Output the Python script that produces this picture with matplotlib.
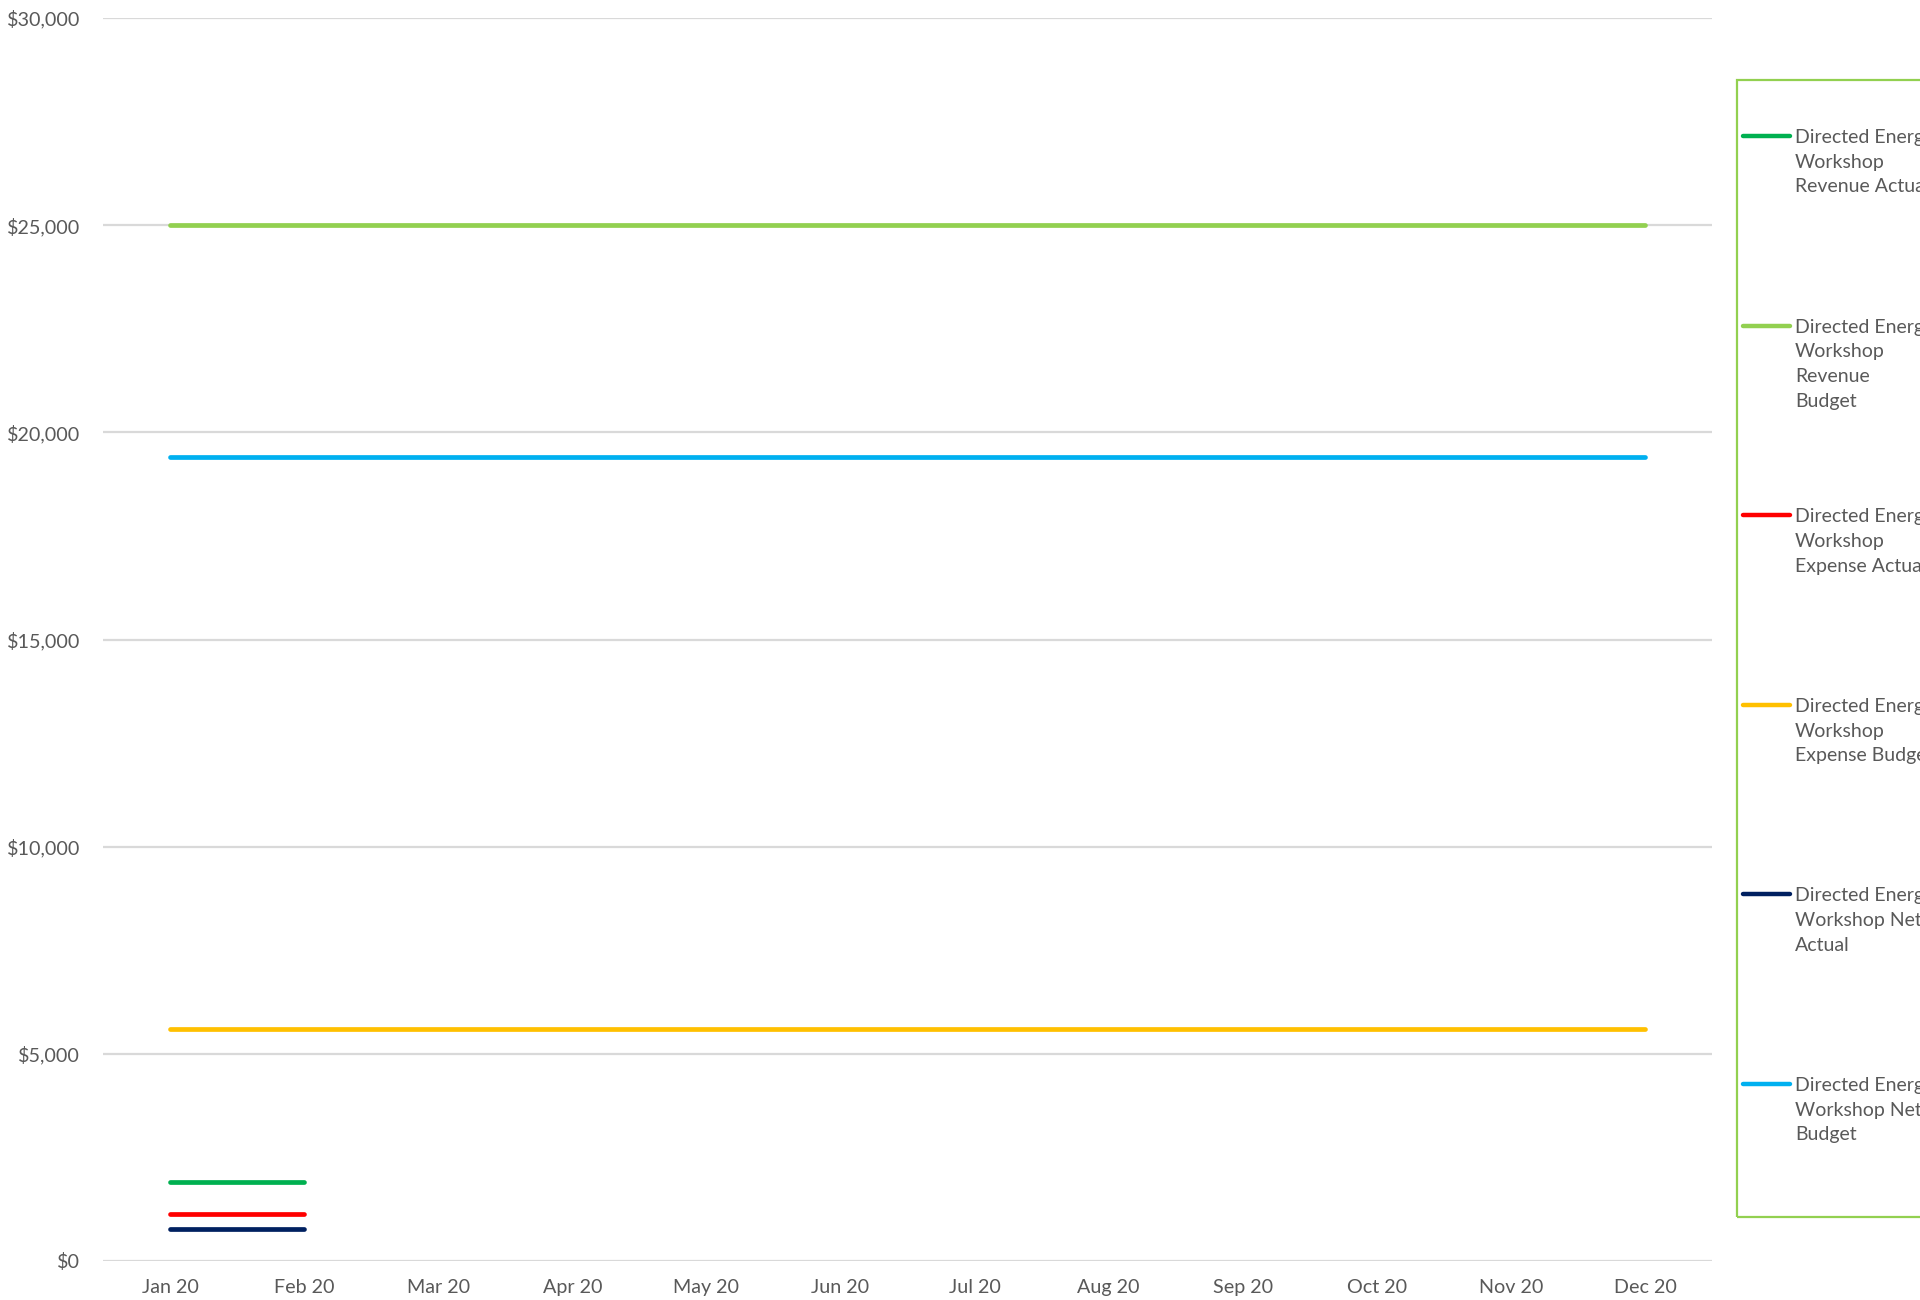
import matplotlib
matplotlib.use("Agg")
import matplotlib.pyplot as plt
from matplotlib.lines import Line2D
from matplotlib.patches import Rectangle
from matplotlib.ticker import FuncFormatter
import numpy as np

# =====================================================
# DATA
# =====================================================
months = ["Jan 20", "Feb 20", "Mar 20", "Apr 20", "May 20", "Jun 20",
          "Jul 20", "Aug 20", "Sep 20", "Oct 20", "Nov 20", "Dec 20"]

nan = np.nan
revenue_actual = [1900, 1900, nan, nan, nan, nan, nan, nan, nan, nan, nan, nan]
revenue_budget = [25000] * 12
expense_actual = [1125, 1125, nan, nan, nan, nan, nan, nan, nan, nan, nan, nan]
expense_budget = [5600] * 12
net_actual = [775, 775, nan, nan, nan, nan, nan, nan, nan, nan, nan, nan]
net_budget = [19400] * 12

series_labels = [
    "Directed Energy\nWorkshop\nRevenue Actual",
    "Directed Energy\nWorkshop\nRevenue\nBudget",
    "Directed Energy\nWorkshop\nExpense Actual",
    "Directed Energy\nWorkshop\nExpense Budget",
    "Directed Energy\nWorkshop Net\nActual",
    "Directed Energy\nWorkshop Net\nBudget",
]
series_values = [revenue_actual, revenue_budget, expense_actual,
                 expense_budget, net_actual, net_budget]
series_colors = ["#00B050", "#92D050", "#FF0000", "#FFC000", "#002060", "#00B0F0"]

TEXT = "#595959"
GRID = "#D9D9D9"
FONT = "Lato"
plt.rcParams["font.family"] = [FONT, "DejaVu Sans"]

# =====================================================
# FIGURE
# =====================================================
W, H = 1920, 1300
fig = plt.figure(figsize=(W / 100, H / 100), dpi=100)
ax = fig.add_axes([103 / W, 1 - 1261 / H, (1712 - 103) / W, (1261 - 18) / H])

x = np.arange(len(months))
for vals, col in zip(series_values, series_colors):
    ax.plot(x, vals, color=col, lw=3.4, solid_capstyle="round", zorder=3)

ax.set_xlim(-0.5, len(months) - 0.5)
ax.set_ylim(0, 30000)
ax.set_yticks(np.arange(0, 30001, 5000))
ax.yaxis.set_major_formatter(FuncFormatter(lambda v, p: f"${v:,.0f}"))
ax.set_xticks(x)
ax.set_xticklabels(months)
ax.grid(axis="y", color=GRID, lw=1.6, zorder=0)
for s in ax.spines.values():
    s.set_visible(False)
ax.tick_params(axis="both", length=0, labelsize=14.2, colors=TEXT)
ax.tick_params(axis="y", pad=16.5)
ax.tick_params(axis="x", pad=13)

# =====================================================
# LEGEND (manual, Excel-style, clipped at right edge)
# =====================================================
fig.patches.append(Rectangle((1737 / W, 1 - 1217 / H), (W + 20 - 1737) / W,
                             (1217 - 80) / H, transform=fig.transFigure,
                             fill=False, edgecolor="#92D050", lw=1.6))
for i, (lab, col) in enumerate(zip(series_labels, series_colors)):
    yy = 1 - (136 + i * 189.6) / H
    fig.lines.append(Line2D([1743 / W, 1790 / W], [yy, yy], transform=fig.transFigure,
                            color=col, lw=3.2, solid_capstyle="round"))
    fig.text(1795 / W, yy + 7 / H, lab, ha="left", va="top", fontsize=14,
             color=TEXT, linespacing=1.55)

fig.savefig("out.png", dpi=100)
